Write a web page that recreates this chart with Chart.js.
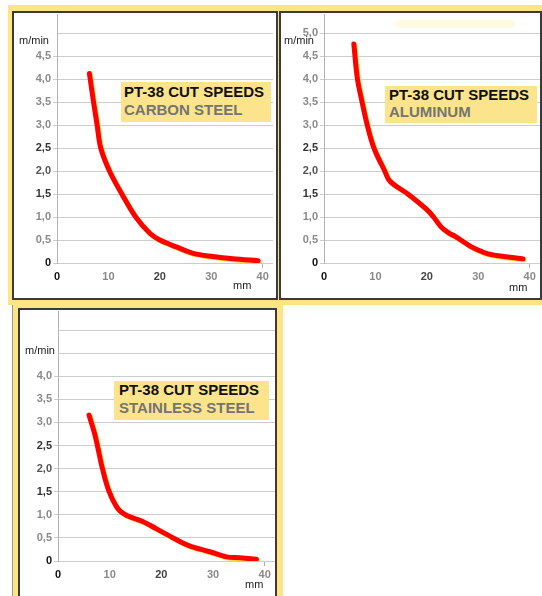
<!DOCTYPE html>
<html>
<head>
<meta charset="utf-8">
<script src="https://cdn.jsdelivr.net/npm/chart.js@4.4.1/dist/chart.umd.min.js"></script>
<style>
  body { margin: 0; width: 542px; height: 596px; position: relative; overflow: hidden; background: #fff;
         font-family: "Liberation Sans", Arial, sans-serif; }
  .abs { position: absolute; }
  .frame { background: #fde681; }
  .panel { background: #fff; border: 2px solid #3a3a3a; box-sizing: border-box; }
  .tag { background: #fbe48c; box-sizing: border-box; font-weight: bold; font-size: 15px; white-space: nowrap; }
  .tag .l1 { color: #111; }
  .tag .l2 { color: #747474; }
  .unit { font-size: 11px; color: #222; white-space: nowrap; }
  canvas { position: absolute; }
</style>
</head>
<body>
<div class="abs frame" style="left:8px;top:5px;width:534px;height:300px"></div>
<div class="abs frame" style="left:13px;top:300px;width:270px;height:296px"></div>
<div class="abs" style="left:12px;top:305px;width:1px;height:291px;background:#9a9a9a"></div>

<div class="abs panel" style="left:12px;top:11px;width:266px;height:289px"></div>
<div class="abs panel" style="left:279px;top:11px;width:263px;height:289px"></div>
<div class="abs panel" style="left:18px;top:308px;width:259px;height:300px"></div>

<div class="abs" style="left:395px;top:20px;width:120px;height:8px;background:#fffbe2;border-radius:4px"></div>

<canvas id="c1" width="262" height="292" style="left:14px;top:6px"></canvas>
<canvas id="c2" width="259" height="292" style="left:281px;top:6px"></canvas>
<canvas id="c3" width="256" height="293" style="left:20px;top:303px"></canvas>

<div class="abs tag" style="left:121px;top:82px;width:150px;height:40px;padding:1px 0 0 3px;line-height:17.5px">
  <div class="l1">PT-38 CUT SPEEDS</div><div class="l2">CARBON STEEL</div></div>
<div class="abs tag" style="left:385px;top:86px;width:152px;height:37px;padding:0 0 0 4px;line-height:17px">
  <div class="l1">PT-38 CUT SPEEDS</div><div class="l2">ALUMINUM</div></div>
<div class="abs tag" style="left:114px;top:381px;width:155px;height:39px;padding:0 0 0 5px;line-height:18px">
  <div class="l1">PT-38 CUT SPEEDS</div><div class="l2">STAINLESS STEEL</div></div>

<div class="abs unit" style="left:19px;top:34px">m/min</div>
<div class="abs unit" style="left:284px;top:34px">m/min</div>
<div class="abs unit" style="left:25px;top:344px">m/min</div>
<div class="abs unit" style="left:233px;top:279px">mm</div>
<div class="abs unit" style="left:509px;top:281px">mm</div>
<div class="abs unit" style="left:245px;top:578px">mm</div>

<script>
// thickness (mm) and cut speed (m/min)
const carbonThickness = [6.3, 7.1, 7.8, 8.5, 10.2, 12.6, 15.3, 18.1, 20.0, 23.2, 26.5, 30.3, 34.2, 39.1];
const carbonSpeed     = [4.12, 3.5, 3.0, 2.5, 2.0, 1.5, 1.0, 0.64, 0.5, 0.35, 0.21, 0.14, 0.09, 0.05];

const aluThickness = [5.8, 6.5, 7.4, 8.4, 9.7, 11.8, 12.8, 16.3, 19.9, 21.3, 22.8, 24.3, 25.5, 27.0, 29.0, 31.9, 35.8, 38.7];
const aluSpeed     = [4.76, 4.0, 3.5, 3.0, 2.5, 2.0, 1.78, 1.5, 1.17, 1.0, 0.78, 0.65, 0.58, 0.47, 0.33, 0.20, 0.13, 0.09];

const stainlessThickness = [6.0, 7.1, 7.7, 8.6, 9.9, 11.6, 13.2, 16.5, 19.0, 22.3, 25.2, 29.4, 32.6, 35.2, 38.4];
const stainlessSpeed     = [3.16, 2.75, 2.46, 2.0, 1.5, 1.13, 0.99, 0.85, 0.70, 0.5, 0.34, 0.20, 0.09, 0.07, 0.04];

// axis ticks
const xTickStep = 10;
const yTickStep = 0.5;
const xMax = 42;
const yMax = 5.4;

// yellow fringe along the red curve
const yellowEdge = {
    id: 'yellowEdge',
    beforeDatasetDraw(chart) {
        const c = chart.ctx;
        c.save();
        c.shadowColor = '#ffe23c';
        c.shadowOffsetX = 1;
        c.shadowOffsetY = 1;
        c.shadowBlur = 0;
    },
    afterDatasetDraw(chart) {
        chart.ctx.restore();
    }
};

const darkY = [2.5, 1.5];
function yTickColor(ctx) {
    const v = ctx.tick.value;
    if (v === 0) return '#111';
    if (darkY.includes(v)) return '#333';
    if (v === 2.0) return '#555';
    return '#8a8a8a';
}
function xTickColor(ctx) {
    const v = ctx.tick.value;
    if (v === 0) return '#111';
    if (v === 20) return '#444';
    return '#8a8a8a';
}

function makeChart(id, xs, ys, yAxisWidth, xAxisHeight, padRight, yLabelMax) {
    const points = xs.map((x, i) => ({ x: x, y: ys[i] }));
    return new Chart(document.getElementById(id), {
        type: 'scatter',
        data: {
            datasets: [{
                data: points,
                showLine: true,
                borderColor: '#ff0000',
                borderWidth: 5,
                pointRadius: 0,
                tension: 0.35,
                borderCapStyle: 'round',
                borderJoinStyle: 'round'
            }]
        },
        options: {
            responsive: false,
            animation: false,
            layout: { padding: { top: 0, right: padRight, bottom: 0, left: 0 } },
            plugins: { legend: { display: false }, tooltip: { enabled: false } },
            scales: {
                x: {
                    type: 'linear',
                    min: 0,
                    max: xMax,
                    ticks: {
                        stepSize: xTickStep,
                        includeBounds: false,
                        maxRotation: 0,
                        padding: 2,
                        color: xTickColor,
                        font: { size: 11, weight: 'bold', family: 'Liberation Sans' }
                    },
                    grid: {
                        drawOnChartArea: false,
                        tickLength: 5,
                        tickColor: ctx => ctx.tick && ctx.tick.value === 40 ? '#b0b0b0' : 'rgba(0,0,0,0)'
                    },
                    border: { display: false },
                    afterFit: s => { s.height = xAxisHeight; }
                },
                y: {
                    min: 0,
                    max: yMax,
                    ticks: {
                        stepSize: yTickStep,
                        includeBounds: false,
                        padding: 2,
                        color: yTickColor,
                        font: { size: 11, weight: 'bold', family: 'Liberation Sans' },
                        callback: v => v > yLabelMax + 0.01 ? '' : (v === 0 ? '0' : v.toFixed(1).replace('.', ','))
                    },
                    grid: {
                        color: '#cdcdcd',
                        tickLength: 4,
                        tickColor: ctx => ctx.tick && ctx.tick.value > yLabelMax + 0.01 ? 'rgba(0,0,0,0)' : '#cdcdcd'
                    },
                    border: { color: '#b4b4b4', width: 1 },
                    afterFit: s => { s.width = yAxisWidth; }
                }
            }
        },
        plugins: [yellowEdge]
    });
}

Chart.defaults.font.family = 'Liberation Sans';
makeChart('c1', carbonThickness, carbonSpeed, 43, 35, 3, 4.5);
makeChart('c2', aluThickness, aluSpeed, 43, 35, 0, 5.0);
makeChart('c3', stainlessThickness, stainlessSpeed, 38, 35, 1, 4.0);
</script>
</body>
</html>
